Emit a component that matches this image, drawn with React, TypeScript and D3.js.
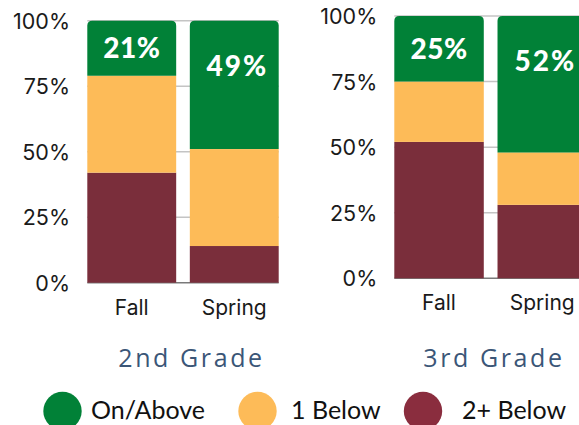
import React from "react";
import * as d3 from "d3";

const categories = ["Fall", "Spring"];
const grades = ["2nd Grade", "3rd Grade"];
const seriesNames = ["2+ Below", "1 Below", "On/Above"];
const legendLabels = ["On/Above", "1 Below", "2+ Below"];
// 2nd grade
const g2Below2 = [42, 14];
const g2Below1 = [37, 37];
const g2OnAbove = [21, 49];
// 3rd grade
const g3Below2 = [52, 28];
const g3Below1 = [23, 20];
const g3OnAbove = [25, 52];
const yTicks = [0, 25, 50, 75, 100];

const W = 579;
const H = 425;

const barColors = ["#7A2E3B", "#FDBB58", "#018137"];
const legendColors = ["#018137", "#FDBB58", "#8A2D3E"];

function roundedTop(x: number, y: number, w: number, h: number, r: number) {
  return `M${x},${y + h} L${x},${y + r} Q${x},${y} ${x + r},${y} L${x + w - r},${y} Q${x + w},${y} ${x + w},${y + r} L${x + w},${y + h} Z`;
}

type PanelProps = {
  data: { [k: string]: number | string }[];
  x0: number;
  x1: number;
  yBottom: number;
  yTop: number;
  axisRight: number;
  title: string;
  titleX: number;
};

function Panel({ data, x0, x1, yBottom, yTop, axisRight, title, titleX }: PanelProps) {
  const x = d3.scaleBand<string>().domain(categories).range([x0, x1]).paddingInner(0.133).paddingOuter(0);
  const y = d3.scaleLinear().domain([0, 100]).range([yBottom, yTop]);
  const stack = d3.stack<any>().keys(seriesNames);
  const series = stack(data as any);
  const bw = x.bandwidth();
  return (
    <g>
      {yTicks.filter((t) => t > 0).map((t) => (
        <line key={t} x1={x0} x2={x1} y1={y(t)} y2={y(t)} stroke="#c4c4c4" strokeWidth={1.5} />
      ))}
      <line x1={x0} x2={x1} y1={y(0)} y2={y(0)} stroke="#7a7a7a" strokeWidth={1.5} />
      {yTicks.map((t) => (
        <text key={t} x={axisRight} y={y(t) + 8} textAnchor="end" fontFamily="Inter, sans-serif" fontWeight={400} fontSize={21.5} fill="#1a1a1a">
          {t}%
        </text>
      ))}
      {series.map((s, si) =>
        s.map((d, i) => {
          const cat = categories[i];
          const bx = x(cat)!;
          const top = y(d[1]);
          const h = y(d[0]) - y(d[1]);
          if (si === series.length - 1) {
            return <path key={`${si}-${i}`} d={roundedTop(bx, top, bw, h, 5)} fill={barColors[si]} />;
          }
          return <rect key={`${si}-${i}`} x={bx} y={top} width={bw} height={h} fill={barColors[si]} />;
        })
      )}
      {series[series.length - 1].map((d, i) => {
        const cat = categories[i];
        const segH = y(d[0]) - y(d[1]);
        const base = y(d[1]) + Math.min(segH / 2 + 10, 55);
        const v = d[1] - d[0];
        return (
          <text
            key={`lbl-${i}`}
            x={x(cat)! + bw / 2 + (i === 1 ? 3 : 0)}
            y={base}
            textAnchor="middle"
            fontFamily="Lato, sans-serif"
            fontWeight={900}
            fontSize={28}
            letterSpacing={i === 1 ? 2 : 0.5}
            fill="#ffffff"
          >
            {Math.round(v)}%
          </text>
        );
      })}
      {categories.map((c) => (
        <text key={c} x={x(c)! + bw / 2} y={yBottom + 32} textAnchor="middle" fontFamily="Inter, sans-serif" fontWeight={400} fontSize={21} fill="#1a1a1a">
          {c}
        </text>
      ))}
      <text x={titleX} y={366.5} textAnchor="middle" fontFamily="'Open Sans', sans-serif" fontSize={25} letterSpacing={2.6} fill="#3B5677">
        {title}
      </text>
    </g>
  );
}

export default function App() {
  const data2 = categories.map((c, i) => ({ cat: c, "2+ Below": g2Below2[i], "1 Below": g2Below1[i], "On/Above": g2OnAbove[i] }));
  const data3 = categories.map((c, i) => ({ cat: c, "2+ Below": g3Below2[i], "1 Below": g3Below1[i], "On/Above": g3OnAbove[i] }));
  const legendX = [62.5, 257.5, 423];
  const legendTextX = [91, 291, 462];
  return (
    <svg width={W} height={H} style={{ position: "absolute", left: 0, top: 0, background: "#fff" }}>
      <Panel data={data2} x0={87.3} x1={278.7} yBottom={282.7} yTop={20.7} axisRight={70} title={grades[0]} titleX={191.5} />
      <Panel data={data3} x0={394.3} x1={587} yBottom={278.3} yTop={16} axisRight={377.3} title={grades[1]} titleX={494} />
      {legendLabels.map((l, i) => (
        <g key={l}>
          <circle cx={legendX[i]} cy={411} r={19.2} fill={legendColors[i]} />
          <text x={legendTextX[i]} y={418.5} fontFamily="Lato, sans-serif" fontSize={25} fill="#111">
            {l}
          </text>
        </g>
      ))}
    </svg>
  );
}
